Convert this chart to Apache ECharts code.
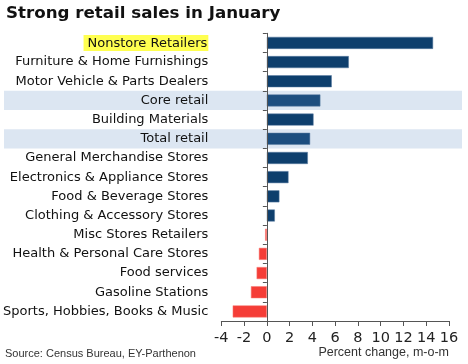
<!DOCTYPE html>
<html>
<head>
<meta charset="utf-8">
<script src="https://cdn.jsdelivr.net/npm/echarts@6/dist/echarts.min.js"></script>
<style>html,body{margin:0;padding:0;background:#fff;}#c{width:468px;height:364px;}</style>
</head>
<body>
<div id="c"></div>
<script>
const categories = [
  'Nonstore Retailers',
  'Furniture & Home Furnishings',
  'Motor Vehicle & Parts Dealers',
  'Core retail',
  'Building Materials',
  'Total retail',
  'General Merchandise Stores',
  'Electronics & Appliance Stores',
  'Food & Beverage Stores',
  'Clothing & Accessory Stores',
  'Misc Stores Retailers',
  'Health & Personal Care Stores',
  'Food services',
  'Gasoline Stations',
  'Sports, Hobbies, Books & Music'
];
const values = [14.6, 7.2, 5.7, 4.7, 4.1, 3.8, 3.6, 1.9, 1.1, 0.7, -0.15, -0.7, -0.9, -1.4, -3.0];
const highlightRows = ['Core retail', 'Total retail'];
const flaggedLabel = 'Nonstore Retailers';
const xMin = -4, xMax = 16, xStep = 2;

const chart = echarts.init(document.getElementById('c'), null, {renderer: 'canvas'});
const gridTop = 33.3, gridHeight = 287.7;

const option = {
  animation: false,
  backgroundColor: '#fff',
  title: [
    {text: 'Strong retail sales in January', left: 6, top: 5, padding: 0,
     textStyle: {fontFamily: 'DejaVu Sans', fontWeight: 'bold', fontSize: 16.7, color: '#111'}},
    {text: 'Source: Census Bureau, EY-Parthenon', left: 5, top: 348.5, padding: 0,
     textStyle: {fontFamily: 'Liberation Sans', fontWeight: 'normal', fontSize: 11, color: '#333'}},
    {text: 'Percent change, m-o-m', right: 19, top: 346.5, padding: 0,
     textStyle: {fontFamily: 'Liberation Sans', fontWeight: 'normal', fontSize: 12.5, color: '#333'}}
  ],
  grid: [
    {left: 4, right: 6, top: gridTop, height: gridHeight},
    {left: 219, right: 19, top: gridTop, height: gridHeight}
  ],
  xAxis: [
    {gridIndex: 0, type: 'value', min: 0, max: 1, show: false},
    {gridIndex: 1, type: 'value', min: xMin, max: xMax, interval: xStep,
     splitLine: {show: false},
     axisLine: {show: true, lineStyle: {color: '#555', width: 1}},
     axisTick: {show: true, length: 5, lineStyle: {color: '#555'}},
     axisLabel: {margin: 10, fontFamily: 'DejaVu Sans', fontSize: 14.5, color: '#222'}}
  ],
  yAxis: [
    {gridIndex: 0, type: 'category', data: categories, inverse: true, show: false},
    {gridIndex: 1, type: 'category', data: categories, inverse: true, position: 'left', z: 4,
     axisLine: {show: false, onZero: false}, axisTick: {show: false},
     axisLabel: {margin: 13, fontFamily: 'DejaVu Sans', fontSize: 13, color: '#111',
       formatter: v => v === flaggedLabel ? '{hl|' + v + '}' : v,
       rich: {hl: {backgroundColor: '#ffff50', padding: [2, 1, 1, 4], fontFamily: 'DejaVu Sans', fontSize: 13, color: '#111'}}}},
    {gridIndex: 1, type: 'category', data: categories, inverse: true, position: 'left', z: 4,
     axisLine: {show: true, onZero: true, lineStyle: {color: '#555', width: 1}},
     axisTick: {show: true, length: 4, lineStyle: {color: '#555'}},
     axisLabel: {show: false}}
  ],
  series: [
    {type: 'bar', xAxisIndex: 0, yAxisIndex: 0, z: 1, barWidth: '100%', silent: true,
     itemStyle: {color: '#dce6f2'},
     data: categories.map(c => highlightRows.includes(c) ? 1 : null)},
    {type: 'bar', xAxisIndex: 1, yAxisIndex: 1, z: 2, barWidth: 12,
     data: values.map((v, i) => ({
       value: v,
       itemStyle: {
         color: v < 0 ? '#f53d37' : (highlightRows.includes(categories[i]) ? '#1d4e7f' : '#0e3f6d'),
         borderColor: v < 0 ? '#f77a74' : '#5a7da3', borderWidth: 0.5
       }
     }))}
  ]
};
chart.setOption(option);
</script>
</body>
</html>
